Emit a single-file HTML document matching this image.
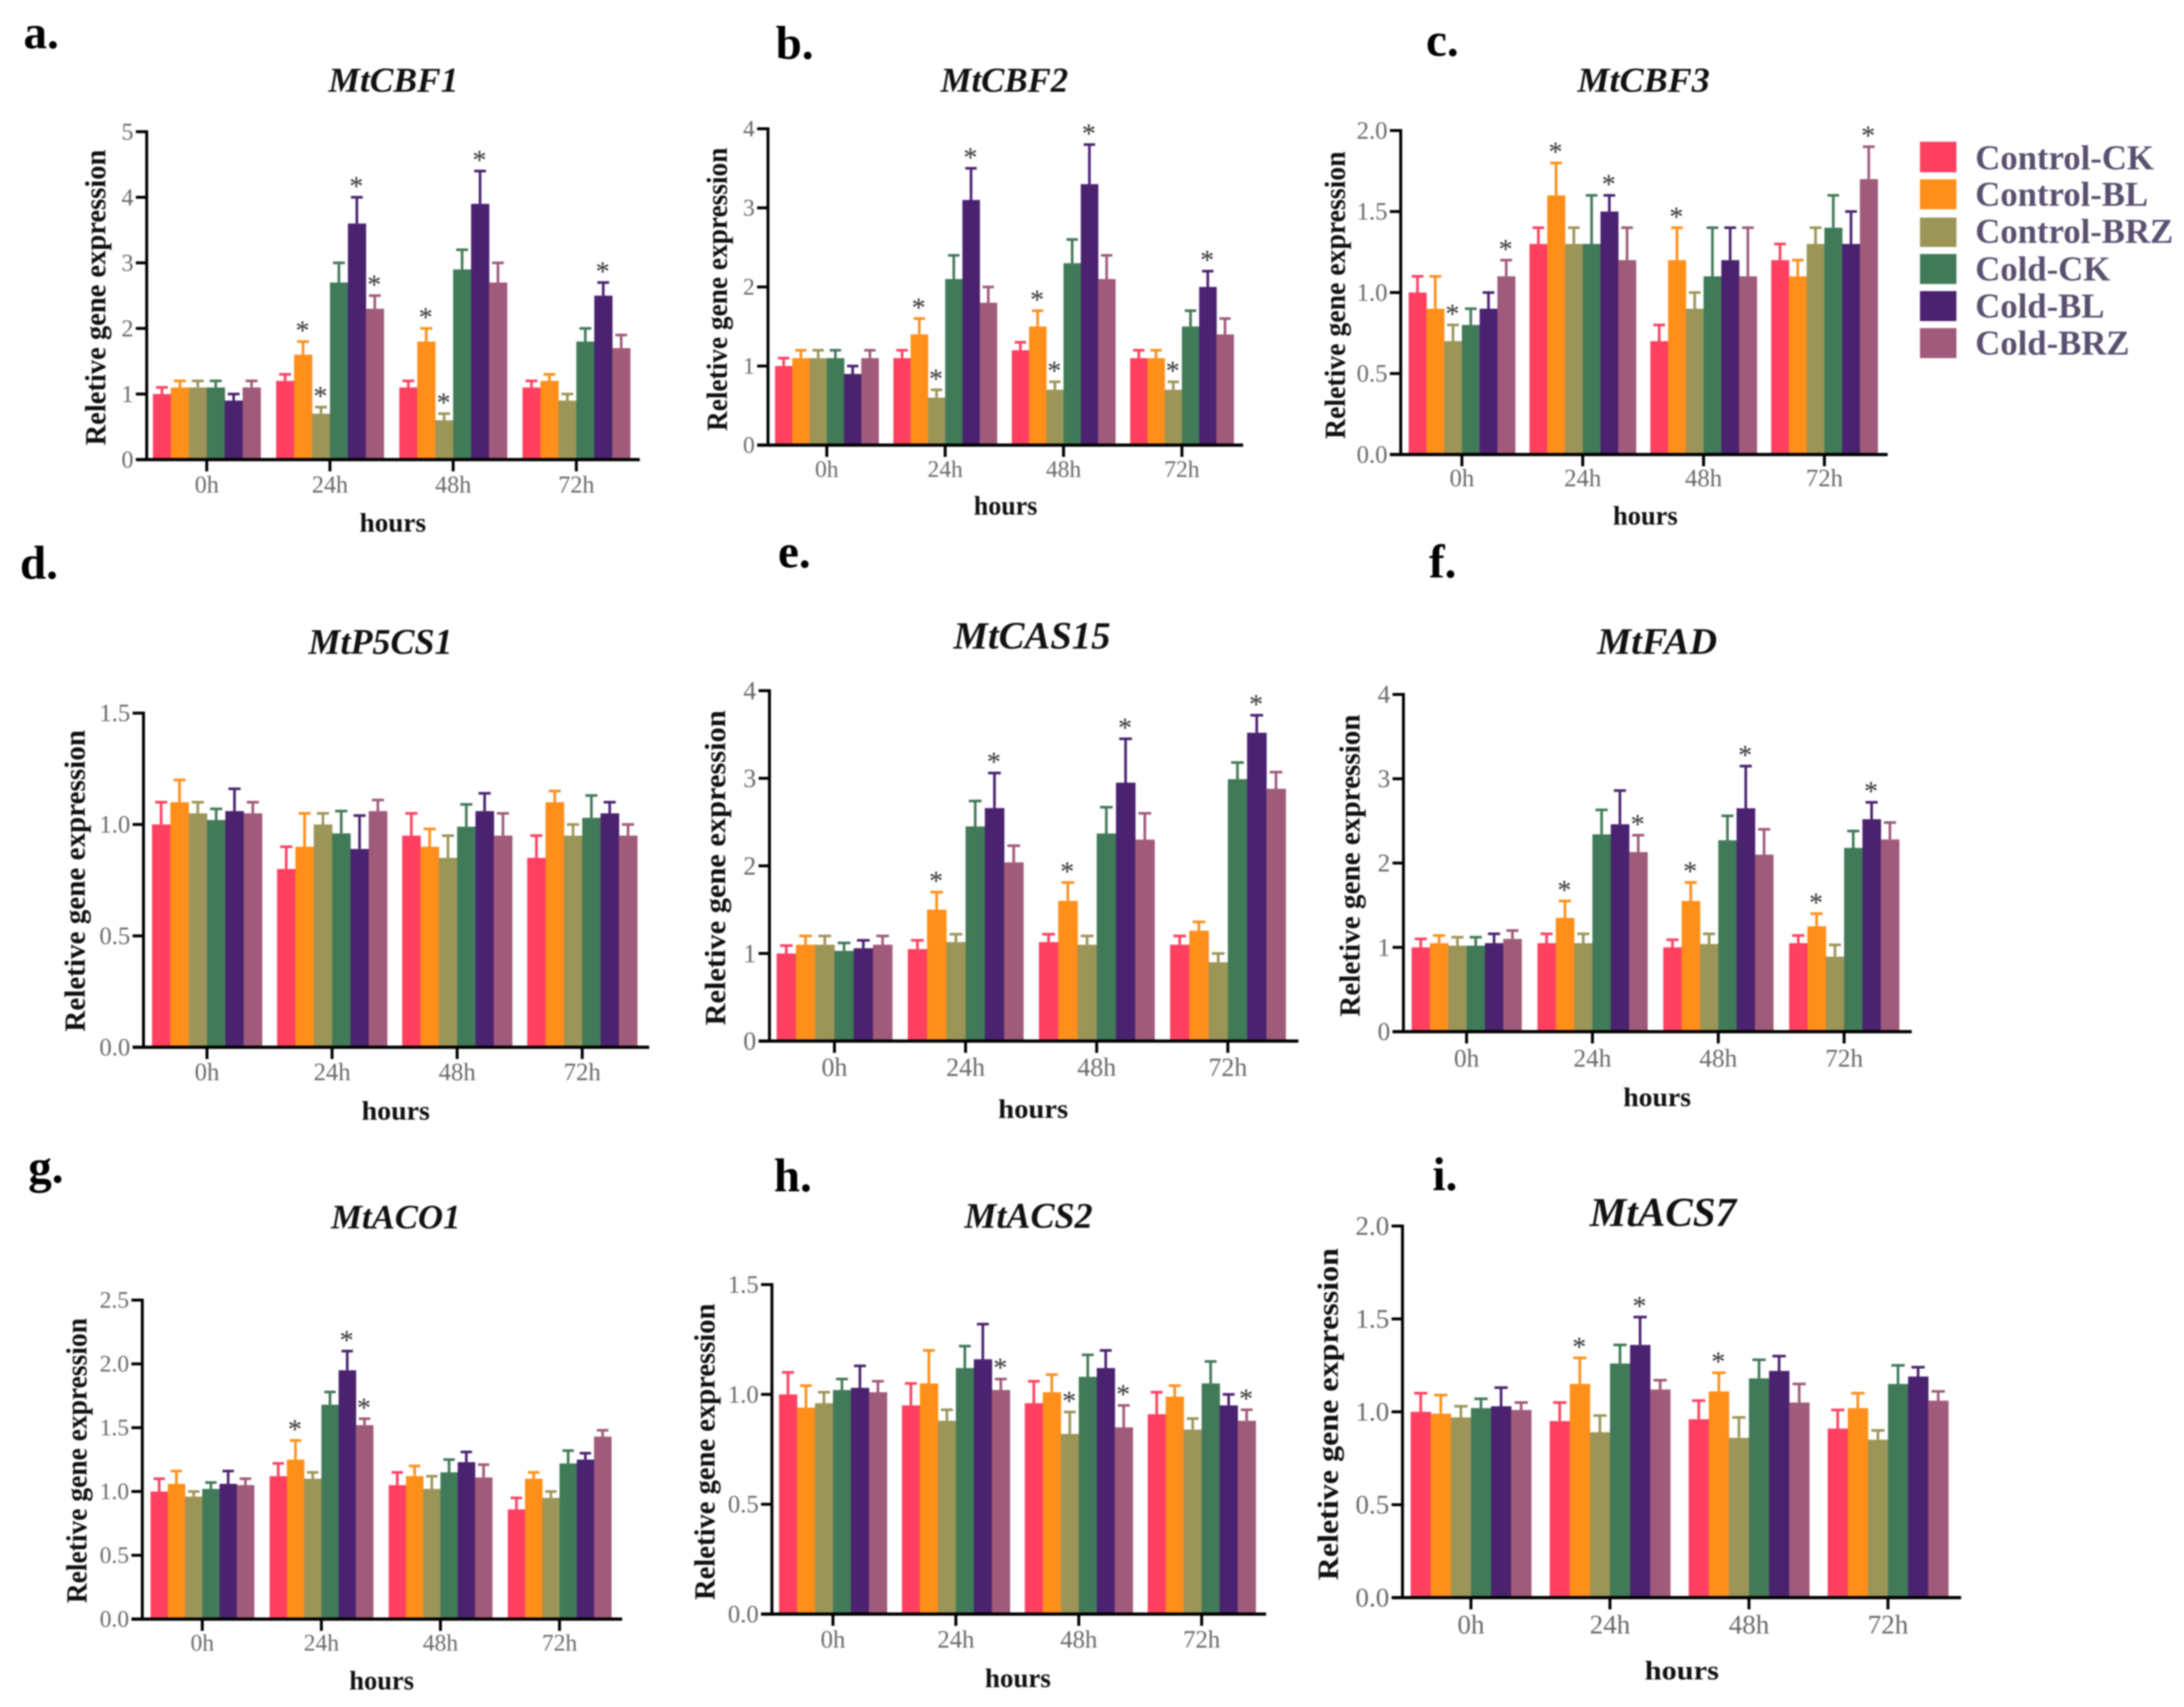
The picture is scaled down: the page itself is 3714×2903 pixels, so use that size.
<!DOCTYPE html>
<html lang="en">
<head>
<meta charset="utf-8">
<title>Relative gene expression panels</title>
<style>
html,body{margin:0;padding:0;background:#fff;}
svg{display:block;width:3714px;height:2903px;font-family:"Liberation Serif",serif;filter:blur(1.2px);}
.letter{font-size:80px;font-weight:bold;fill:#000;}
.title{font-weight:bold;font-style:italic;fill:#111;text-anchor:middle;}
.ytitle{font-weight:bold;fill:#111;text-anchor:middle;font-size:50px;}
.xtitle{font-weight:bold;fill:#111;text-anchor:middle;font-size:46px;}
.legend-text{font-size:59px;font-weight:bold;fill:#5a5070;}
.tick-label{fill:#6c6868;}
.star{fill:#333;font-size:48px;text-anchor:middle;}
</style>
</head>
<body>
<svg id="figure" xmlns="http://www.w3.org/2000/svg" viewBox="0 0 3714 2903" width="3714" height="2903">
<rect x="0" y="0" width="3714" height="2903" fill="#fff"/>

<text class="letter" x="40" y="82">a.</text>
<text class="letter" x="1319" y="100">b.</text>
<text class="letter" x="2425" y="95">c.</text>
<text class="letter" x="34" y="984">d.</text>
<text class="letter" x="1323" y="965">e.</text>
<text class="letter" x="2430" y="982">f.</text>
<text class="letter" x="48" y="2011">g.</text>
<text class="letter" x="1316" y="2026">h.</text>
<text class="letter" x="2436" y="2024">i.</text>

<text class="title" x="669" y="156" font-size="59" textLength="221" lengthAdjust="spacingAndGlyphs">MtCBF1</text>
<text class="title" x="1708" y="156" font-size="59" textLength="217" lengthAdjust="spacingAndGlyphs">MtCBF2</text>
<text class="title" x="2795" y="156" font-size="59" textLength="225" lengthAdjust="spacingAndGlyphs">MtCBF3</text>
<text class="title" x="647" y="1112" font-size="61" textLength="245" lengthAdjust="spacingAndGlyphs">MtP5CS1</text>
<text class="title" x="1755" y="1103" font-size="66" textLength="267" lengthAdjust="spacingAndGlyphs">MtCAS15</text>
<text class="title" x="2818" y="1112" font-size="63" textLength="204" lengthAdjust="spacingAndGlyphs">MtFAD</text>
<text class="title" x="673" y="2089" font-size="58" textLength="220" lengthAdjust="spacingAndGlyphs">MtACO1</text>
<text class="title" x="1749" y="2088" font-size="61" textLength="218" lengthAdjust="spacingAndGlyphs">MtACS2</text>
<text class="title" x="2828" y="2085" font-size="70" textLength="249" lengthAdjust="spacingAndGlyphs">MtACS7</text>

<text class="ytitle" transform="translate(179 506) rotate(-90)" textLength="503" lengthAdjust="spacingAndGlyphs">Reletive gene expression</text>
<text class="ytitle" transform="translate(1236 492) rotate(-90)" textLength="482" lengthAdjust="spacingAndGlyphs">Reletive gene expression</text>
<text class="ytitle" transform="translate(2287 502) rotate(-90)" textLength="489" lengthAdjust="spacingAndGlyphs">Reletive gene expression</text>
<text class="ytitle" transform="translate(144 1498) rotate(-90)" textLength="513" lengthAdjust="spacingAndGlyphs">Reletive gene expression</text>
<text class="ytitle" transform="translate(1233 1476) rotate(-90)" textLength="536" lengthAdjust="spacingAndGlyphs">Reletive gene expression</text>
<text class="ytitle" transform="translate(2312 1472) rotate(-90)" textLength="514" lengthAdjust="spacingAndGlyphs">Reletive gene expression</text>
<text class="ytitle" transform="translate(147 2484) rotate(-90)" textLength="485" lengthAdjust="spacingAndGlyphs">Reletive gene expression</text>
<text class="ytitle" transform="translate(1215 2469) rotate(-90)" textLength="504" lengthAdjust="spacingAndGlyphs">Reletive gene expression</text>
<text class="ytitle" transform="translate(2275 2405) rotate(-90)" textLength="565" lengthAdjust="spacingAndGlyphs">Reletive gene expression</text>

<text class="xtitle" x="668" y="904" textLength="113" lengthAdjust="spacingAndGlyphs">hours</text>
<text class="xtitle" x="1710" y="875" textLength="108" lengthAdjust="spacingAndGlyphs">hours</text>
<text class="xtitle" x="2798" y="892" textLength="110" lengthAdjust="spacingAndGlyphs">hours</text>
<text class="xtitle" x="673" y="1904" textLength="116" lengthAdjust="spacingAndGlyphs">hours</text>
<text class="xtitle" x="1757" y="1901" textLength="119" lengthAdjust="spacingAndGlyphs">hours</text>
<text class="xtitle" x="2818" y="1881" textLength="115" lengthAdjust="spacingAndGlyphs">hours</text>
<text class="xtitle" x="649" y="2873" textLength="110" lengthAdjust="spacingAndGlyphs">hours</text>
<text class="xtitle" x="1731" y="2869" textLength="112" lengthAdjust="spacingAndGlyphs">hours</text>
<text class="xtitle" x="2860" y="2856" textLength="126" lengthAdjust="spacingAndGlyphs">hours</text>

<g>
  <rect x="3265" y="241" width="62" height="52" fill="#ff4060"/>
  <text class="legend-text" x="3359" y="288">Control-CK</text>
  <rect x="3265" y="305" width="62" height="51" fill="#ff8f1a"/>
  <text class="legend-text" x="3359" y="350">Control-BL</text>
  <rect x="3265" y="370" width="62" height="50" fill="#9c9558"/>
  <text class="legend-text" x="3359" y="413">Control-BRZ</text>
  <rect x="3265" y="432" width="62" height="51" fill="#417a58"/>
  <text class="legend-text" x="3359" y="477">Cold-CK</text>
  <rect x="3265" y="495" width="62" height="51" fill="#4a2270"/>
  <text class="legend-text" x="3359" y="540">Cold-BL</text>
  <rect x="3265" y="558" width="62" height="51" fill="#a05a7a"/>
  <text class="legend-text" x="3359" y="603">Cold-BRZ</text>
</g>
</svg>

<script>
// Shared categories and series
const categories = ["0h", "24h", "48h", "72h"];
const seriesKeys = ["control-ck", "control-bl", "control-brz", "cold-ck", "cold-bl", "cold-brz"];
const seriesColors = ["#ff4060", "#ff8f1a", "#9c9558", "#417a58", "#4a2270", "#a05a7a"];

// Y tick labels
const yTicksA = ["0", "1", "2", "3", "4", "5"];
const yTicksB = ["0", "1", "2", "3", "4"];
const yTicksC = ["0.0", "0.5", "1.0", "1.5", "2.0"];
const yTicksD = ["0.0", "0.5", "1.0", "1.5"];
const yTicksE = ["0", "1", "2", "3", "4"];
const yTicksF = ["0", "1", "2", "3", "4"];
const yTicksG = ["0.0", "0.5", "1.0", "1.5", "2.0", "2.5"];
const yTicksH = ["0.0", "0.5", "1.0", "1.5"];
const yTicksI = ["0.0", "0.5", "1.0", "1.5", "2.0"];

// Means: one row per time point, six series per row
const meansA = [[1.0,1.1,1.1,1.1,0.9,1.1],[1.2,1.6,0.7,2.7,3.6,2.3],[1.1,1.8,0.6,2.9,3.9,2.7],[1.1,1.2,0.9,1.8,2.5,1.7]];
const meansB = [[1.0,1.1,1.1,1.1,0.9,1.1],[1.1,1.4,0.6,2.1,3.1,1.8],[1.2,1.5,0.7,2.3,3.3,2.1],[1.1,1.1,0.7,1.5,2.0,1.4]];
const meansC = [[1.0,0.9,0.7,0.8,0.9,1.1],[1.3,1.6,1.3,1.3,1.5,1.2],[0.7,1.2,0.9,1.1,1.2,1.1],[1.2,1.1,1.3,1.4,1.3,1.7]];
const meansD = [[1.0,1.1,1.05,1.02,1.06,1.05],[0.8,0.9,1.0,0.96,0.89,1.06],[0.95,0.9,0.85,0.99,1.06,0.95],[0.85,1.1,0.95,1.03,1.05,0.95]];
const meansE = [[1.0,1.1,1.1,1.03,1.06,1.1],[1.05,1.5,1.13,2.45,2.66,2.04],[1.13,1.6,1.1,2.37,2.95,2.3],[1.1,1.26,0.9,2.99,3.52,2.88]];
const meansF = [[1.0,1.05,1.02,1.02,1.05,1.1],[1.05,1.35,1.05,2.34,2.46,2.13],[1.0,1.55,1.04,2.27,2.65,2.1],[1.05,1.25,0.89,2.18,2.52,2.28]];
const meansG = [[1.0,1.06,0.96,1.02,1.06,1.05],[1.12,1.25,1.1,1.68,1.95,1.52],[1.05,1.12,1.02,1.15,1.23,1.11],[0.86,1.1,0.95,1.22,1.25,1.43]];
const meansH = [[1.0,0.94,0.96,1.02,1.03,1.01],[0.95,1.05,0.88,1.12,1.16,1.02],[0.96,1.01,0.82,1.08,1.12,0.85],[0.91,0.99,0.84,1.05,0.95,0.88]];
const meansI = [[1.0,0.99,0.97,1.02,1.03,1.01],[0.95,1.15,0.89,1.26,1.36,1.12],[0.96,1.11,0.86,1.18,1.22,1.05],[0.91,1.02,0.85,1.15,1.19,1.06]];

// Upper end of each error bar, same shape as the means
const upperA = [[1.1,1.2,1.2,1.2,1.0,1.2],[1.3,1.8,0.8,3.0,4.0,2.5],[1.2,2.0,0.7,3.2,4.4,3.0],[1.2,1.3,1.0,2.0,2.7,1.9]];
const upperB = [[1.1,1.2,1.2,1.2,1.0,1.2],[1.2,1.6,0.7,2.4,3.5,2.0],[1.3,1.7,0.8,2.6,3.8,2.4],[1.2,1.2,0.8,1.7,2.2,1.6]];
const upperC = [[1.1,1.1,0.8,0.9,1.0,1.2],[1.4,1.8,1.4,1.6,1.6,1.4],[0.8,1.4,1.0,1.4,1.4,1.4],[1.3,1.2,1.4,1.6,1.5,1.9]];
const upperD = [[1.1,1.2,1.1,1.07,1.16,1.1],[0.9,1.05,1.05,1.06,1.04,1.11],[1.05,0.98,0.95,1.09,1.14,1.05],[0.95,1.15,1.0,1.13,1.1,1.0]];
const upperE = [[1.09,1.2,1.2,1.12,1.15,1.2],[1.15,1.7,1.22,2.74,3.06,2.23],[1.22,1.81,1.2,2.67,3.45,2.6],[1.2,1.36,1.0,3.18,3.72,3.07]];
const upperF = [[1.1,1.14,1.12,1.12,1.16,1.2],[1.16,1.55,1.16,2.63,2.86,2.33],[1.09,1.77,1.16,2.56,3.15,2.4],[1.14,1.4,1.03,2.38,2.72,2.48]];
const upperG = [[1.1,1.16,1.0,1.07,1.16,1.1],[1.22,1.4,1.15,1.78,2.1,1.57],[1.15,1.2,1.12,1.25,1.31,1.21],[0.95,1.15,1.0,1.32,1.3,1.48]];
const upperH = [[1.1,1.04,1.01,1.07,1.13,1.06],[1.05,1.2,0.93,1.22,1.32,1.07],[1.06,1.09,0.92,1.18,1.2,0.95],[1.01,1.04,0.89,1.15,1.0,0.93]];
const upperI = [[1.1,1.09,1.03,1.07,1.13,1.05],[1.05,1.29,0.98,1.36,1.51,1.17],[1.06,1.21,0.97,1.28,1.3,1.15],[1.01,1.1,0.9,1.25,1.24,1.11]];

// Significance marks: for each time point, the series indexes that carry an asterisk
const starsA = [[],[1,2,4,5],[1,2,4],[4]];
const starsB = [[],[1,2,4],[1,2,4],[2,4]];
const starsC = [[2,5],[1,4],[1],[5]];
const starsD = [[],[],[],[]];
const starsE = [[],[1,4],[1,4],[4]];
const starsF = [[],[1,5],[1,4],[1,4]];
const starsG = [[],[1,4,5],[],[]];
const starsH = [[],[5],[2,5],[5]];
const starsI = [[],[1,4],[1],[]];

// Panel frames (layout only)
const frames = [
  {id:"a",axisX:249.5,right:1088,y0:781.6,yTop:224,tick0:351.6,step:209.5,groupW:183,font:41,off:56,ticks:yTicksA,means:meansA,upper:upperA,stars:starsA},
  {id:"b",axisX:1306,right:2114,y0:757,yTop:219,tick0:1406,step:201.3,groupW:176,font:40,off:54,ticks:yTicksB,means:meansB,upper:upperB,stars:starsB},
  {id:"c",axisX:2382,right:3210,y0:773,yTop:222,tick0:2486,step:205.5,groupW:181,font:42,off:54,ticks:yTicksC,means:meansC,upper:upperC,stars:starsC},
  {id:"d",axisX:244,right:1104,y0:1781,yTop:1212.7,tick0:352,step:212.7,groupW:187,font:42,off:56,ticks:yTicksD,means:meansD,upper:upperD,stars:starsD},
  {id:"e",axisX:1308.5,right:2208,y0:1770.5,yTop:1174.6,tick0:1419,step:223,groupW:196.5,font:44,off:59,ticks:yTicksE,means:meansE,upper:upperE,stars:starsE},
  {id:"f",axisX:2386.6,right:3251,y0:1754.5,yTop:1181,tick0:2494,step:214,groupW:187,font:43,off:59.5,ticks:yTicksF,means:meansF,upper:upperF,stars:starsF},
  {id:"g",axisX:242,right:1058,y0:2753.5,yTop:2211,tick0:344,step:202.5,groupW:176,font:40,off:53.5,ticks:yTicksG,means:meansG,upper:upperG,stars:starsG},
  {id:"h",axisX:1312.7,right:2153,y0:2745,yTop:2184.6,tick0:1416.5,step:209,groupW:183.5,font:42,off:57,ticks:yTicksH,means:meansH,upper:upperH,stars:starsH},
  {id:"i",axisX:2385,right:3335,y0:2717,yTop:2085,tick0:2501.4,step:236.4,groupW:205,font:46,off:61,ticks:yTicksI,means:meansI,upper:upperI,stars:starsI}
];

const svgNS = "http://www.w3.org/2000/svg";
const figure = document.getElementById("figure");

function make(tag, parent, attrs, text) {
  const node = document.createElementNS(svgNS, tag);
  for (const k in attrs) node.setAttribute(k, attrs[k]);
  if (text !== undefined) node.textContent = text;
  parent.appendChild(node);
  return node;
}

function drawPanel(f) {
  const maxTick = parseFloat(f.ticks[f.ticks.length - 1]);
  const yScale = function (v) { return f.y0 - (v / maxTick) * (f.y0 - f.yTop); };
  const groupX = function (g) { return f.tick0 + g * f.step; };
  const barW = f.groupW / seriesKeys.length;
  const barX = function (g, s) { return groupX(g) + (s - seriesKeys.length / 2) * barW; };
  const tickLeft = f.axisX - 18.5;

  const panel = make("g", figure, {});
  
  

  // bars and error bars
  f.means.forEach(function (row, g) {
    row.forEach(function (value, s) {
      const top = yScale(value);
      const bar = make("rect", panel, {x: barX(g, s), y: top, width: barW + 0.5, height: f.y0 - top, fill: seriesColors[s]});
      
      
    });
  });
  f.upper.forEach(function (row, g) {
    row.forEach(function (value, s) {
      const cx = barX(g, s) + barW / 2;
      const capY = yScale(value);
      const err = make("path", panel, {
        d: "M" + cx + " " + yScale(f.means[g][s]) + "V" + capY + "M" + (cx - barW * 0.33) + " " + capY + "H" + (cx + barW * 0.33),
        stroke: seriesColors[s], "stroke-width": 4.5, fill: "none"
      });
      
      
    });
  });

  // significance asterisks
  f.stars.forEach(function (list, g) {
    list.forEach(function (s) {
      const star = make("text", panel, {"class": "star", x: barX(g, s) + barW / 2 - 1, y: yScale(f.upper[g][s]) - 3}, "*");
      
      
    });
  });

  // y axis
  const yAxis = make("line", panel, {x1: f.axisX, x2: f.axisX, y1: f.yTop - 2.5, y2: f.y0 + 2.5, stroke: "#000", "stroke-width": 5});
  
  
  f.ticks.forEach(function (label) {
    const v = parseFloat(label);
    const y = yScale(v);
    const tick = make("line", panel, {x1: tickLeft, x2: f.axisX, y1: y, y2: y, stroke: "#000", "stroke-width": 5});
    
    
    const txt = make("text", panel, {"class": "tick-label", x: tickLeft - 4, y: y + f.font * 0.33, "text-anchor": "end", "font-size": f.font}, label);
    
    
  });

  // x axis
  const xAxis = make("line", panel, {x1: tickLeft, x2: f.right, y1: f.y0, y2: f.y0, stroke: "#000", "stroke-width": 5.5});
  
  
  categories.forEach(function (label, g) {
    const x = groupX(g);
    const tick = make("line", panel, {x1: x, x2: x, y1: f.y0, y2: f.y0 + 20, stroke: "#000", "stroke-width": 5});
    
    
    const txt = make("text", panel, {"class": "tick-label", x: x, y: f.y0 + f.off, "text-anchor": "middle", "font-size": f.font}, label);
    
    
  });
}

frames.forEach(drawPanel);
</script>
</body>
</html>
